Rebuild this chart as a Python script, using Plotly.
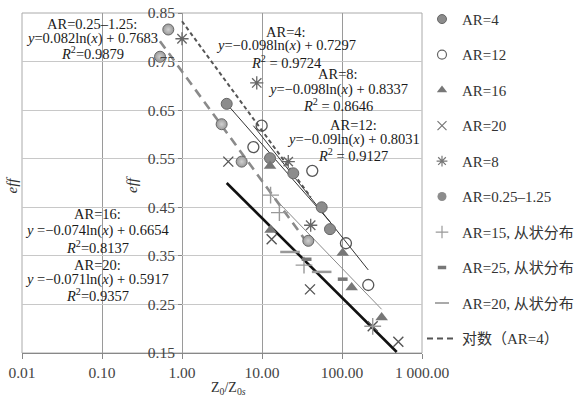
import plotly.graph_objects as go

# ---------------- data ----------------
ar4_x = [3.62, 12.6, 24.6, 55.7, 70.8]
ar4_y = [0.663, 0.551, 0.520, 0.450, 0.405]
ar12_x = [7.8, 9.9, 42.5, 112, 213]
ar12_y = [0.574, 0.618, 0.525, 0.376, 0.290]
ar16_x = [12.6, 12.8, 102, 132, 313]
ar16_y = [0.535, 0.403, 0.356, 0.285, 0.223]
ar20_x = [3.79, 13.2, 39.8, 242, 506]
ar20_y = [0.544, 0.384, 0.281, 0.205, 0.173]
ar8_x = [1.0, 8.6, 21.3, 40.6]
ar8_y = [0.797, 0.706, 0.544, 0.413]
ar025_x = [0.531, 0.674, 3.13, 5.57, 37.9]
ar025_y = [0.760, 0.816, 0.621, 0.544, 0.381]
ar15c_x = [12.8, 16.5, 33.5, 242]
ar15c_y = [0.475, 0.439, 0.331, 0.205]
ar25c_x = [36.1, 102]
ar25c_y = [0.343, 0.302]
ar20c_x = [22.4, 55.7]
ar20c_y = [0.358, 0.317]

# trend line end points
tr_ar8_x = [1.0, 40.6]
tr_ar8_y = [0.833, 0.471]
tr_ar025_x = [0.53, 37.9]
tr_ar025_y = [0.792, 0.374]
tr_ar4_x = [3.62, 70.8]
tr_ar4_y = [0.663, 0.420]
tr_ar12_x = [7.8, 213]
tr_ar12_y = [0.618, 0.321]
tr_ar16_x = [12.6, 313]
tr_ar16_y = [0.478, 0.240]
tr_ar20_x = [3.62, 483]
tr_ar20_y = [0.500, 0.152]

x_tickvals = [0.01, 0.1, 1, 10, 100, 1000]
x_ticktext = ["0.01", "0.10", "1.00", "10.00", "100.00", "1 000.00"]
y_tickvals = [0.15, 0.25, 0.35, 0.45, 0.55, 0.65, 0.75, 0.85]
y_ticktext = ["0.15", "0.25", "0.35", "0.45", "0.55", "0.65", "0.75", "0.85"]

legend_names = ["AR=4", "AR=12", "AR=16", "AR=20", "AR=8", "AR=0.25–1.25",
                "AR=15, 从状分布", "AR=25, 从状分布", "AR=20, 从状分布", "对数（AR=4）"]

SERIF = "Liberation Serif, 'Noto Sans CJK SC', serif"

fig = go.Figure()

# ---- trend lines ----
def line(x, y, color, width, dash="solid"):
    fig.add_trace(go.Scatter(x=x, y=y, mode="lines", showlegend=False, hoverinfo="skip",
                             line=dict(color=color, width=width, dash=dash)))

line(tr_ar20_x, tr_ar20_y, "#111111", 2.6)
line(tr_ar16_x, tr_ar16_y, "#8a8a8a", 1.0)
line(tr_ar12_x, tr_ar12_y, "#333333", 1.0)
line(tr_ar4_x, tr_ar4_y, "#333333", 1.0)
line(tr_ar025_x, tr_ar025_y, "#8a8a8a", 2.6, "9px,6px")
line(tr_ar8_x, tr_ar8_y, "#555555", 2.0, "4px,3px")

# ---- markers ----
styles = [
    (ar4_x, ar4_y, dict(symbol="circle", size=11, color="#8c8c8c", line=dict(color="#666666", width=1))),
    (ar12_x, ar12_y, dict(symbol="circle-open", size=11, color="#555555", line=dict(width=1.3))),
    (ar16_x, ar16_y, dict(symbol="triangle-up", size=11, color="#777777", line=dict(width=0))),
    (ar20_x, ar20_y, dict(symbol="x-thin-open", size=10, color="#555555", line=dict(width=1.4))),
    (ar8_x, ar8_y, dict(symbol="asterisk-open", size=11, color="#666666", line=dict(width=1.3))),
    (ar025_x, ar025_y, dict(symbol="circle", size=11, color="#999999",
                            gradient=dict(type="radial", color="#d0d0d0"),
                            line=dict(color="#666666", width=1))),
    (ar15c_x, ar15c_y, dict(symbol="cross-thin-open", size=12, color="#999999", line=dict(width=1.4))),
    (ar25c_x, ar25c_y, dict(symbol="line-ew-open", size=7, color="#777777", line=dict(width=3.5))),
    (ar20c_x, ar20c_y, dict(symbol="line-ew-open", size=14, color="#999999", line=dict(width=2.5))),
]
for x, y, m in styles:
    fig.add_trace(go.Scatter(x=x, y=y, mode="markers", marker=m, showlegend=False))

# ---- legend entries ----
leg_markers = [
    dict(symbol="circle", size=9, color="#8c8c8c", line=dict(color="#666666", width=1)),
    dict(symbol="circle-open", size=9, color="#666666", line=dict(width=1.2)),
    dict(symbol="triangle-up", size=9, color="#777777", line=dict(width=0)),
    dict(symbol="x-thin-open", size=9, color="#777777", line=dict(width=1.2)),
    dict(symbol="asterisk-open", size=9, color="#777777", line=dict(width=1.2)),
    dict(symbol="circle", size=9, color="#8c8c8c", line=dict(width=0)),
    dict(symbol="cross-thin-open", size=9, color="#999999", line=dict(width=1.2)),
    dict(symbol="line-ew-open", size=6, color="#777777", line=dict(width=3.5)),
    dict(symbol="line-ew-open", size=10, color="#aaaaaa", line=dict(width=2)),
]
for i, (name, m) in enumerate(zip(legend_names[:9], leg_markers)):
    fig.add_trace(go.Scatter(x=[None], y=[None], mode="markers", marker=m, name=name,
                             legendgroup=f"g{i}"))
fig.add_trace(go.Scatter(x=[None], y=[None], mode="lines", name=legend_names[9],
                         line=dict(color="#555555", width=2, dash="6px,4px"), legendgroup="g9"))

# ---- text annotations (trend equations) ----
def px2paper(px, py):
    return (px - 22) / 400.0, (353 - py) / 340.0

eq_blocks = [
    (92, [24, 38.5, 53], ["AR=0.25–1.25:", "<i>y</i>=0.082ln(<i>x</i>) + 0.7683", "<i>R</i><sup>2</sup>=0.9879"]),
    (286, [31.7, 46, 61.5], ["AR=4:", "<i>y</i>=−0.098ln(<i>x</i>) + 0.7297", "<i>R</i><sup>2</sup> = 0.9724"]),
    (338, [73.5, 89, 104.5], ["AR=8:", "<i>y</i>=−0.098ln(<i>x</i>) + 0.8337", "<i>R</i><sup>2</sup> = 0.8646"]),
    (353, [125, 139.5, 155], ["AR=12:", "<i>y</i>=−0.09ln(<i>x</i>) + 0.8031", "<i>R</i><sup>2</sup> = 0.9127"]),
    (97, [214, 231, 246.5], ["AR=16:", "<i>y</i> =−0.074ln(<i>x</i>) + 0.6654", "<i>R</i><sup>2</sup>=0.8137"]),
    (97, [265, 279.5, 295], ["AR=20:", "<i>y</i> =−0.071ln(<i>x</i>) + 0.5917", "<i>R</i><sup>2</sup>=0.9357"]),
]
annotations = []
for cx, ys, texts in eq_blocks:
    for py, t in zip(ys, texts):
        ax, ay = px2paper(cx, py)
        annotations.append(dict(x=ax, y=ay, xref="paper", yref="paper", text=t, showarrow=False,
                                xanchor="center", yanchor="middle",
                                font=dict(family=SERIF, size=14.5, color="#1a1a1a")))

for px, py in [(11.5, 185), (132, 185)]:
    ax, ay = px2paper(px, py)
    annotations.append(dict(x=ax, y=ay, xref="paper", yref="paper", text="<i>eff</i>", showarrow=False,
                            textangle=-90, xanchor="center", yanchor="middle",
                            font=dict(family=SERIF, size=15, color="#333333")))
ax, ay = px2paper(228, 388)
annotations.append(dict(x=ax, y=ay, xref="paper", yref="paper", text="Z<sub>0</sub>/Z<sub>0<i>s</i></sub>",
                        showarrow=False, xanchor="center", yanchor="middle",
                        font=dict(family=SERIF, size=14, color="#333333")))

fig.update_layout(
    width=578, height=396,
    margin=dict(l=22, r=156, t=13, b=43, autoexpand=False),
    paper_bgcolor="white", plot_bgcolor="white",
    font=dict(family=SERIF, size=15, color="#333333"),
    showlegend=True,
    legend=dict(x=1.0, xanchor="left", y=1.03, yanchor="top", tracegroupgap=13, maxheight=390,
                font=dict(family=SERIF, size=15, color="#333333"),
                bgcolor="rgba(0,0,0,0)", borderwidth=0, itemwidth=30),
    xaxis=dict(type="log", range=[-2, 3], tickvals=x_tickvals, ticktext=x_ticktext,
               showgrid=True, gridcolor="#9a9a9a", gridwidth=1, ticks="outside", ticklen=5,
               tickcolor="#888888", showline=True, linecolor="#888888", zeroline=False,
               tickfont=dict(family=SERIF, size=15.5, color="#444444")),
    yaxis=dict(range=[0.15, 0.85], tickvals=y_tickvals, ticktext=y_ticktext, anchor="free", position=0.4,
               showgrid=True, gridcolor="#c8c8c8", gridwidth=1, ticks="outside", ticklen=4,
               tickcolor="#888888", showline=False, zeroline=False,
               tickfont=dict(family=SERIF, size=15.5, color="#444444")),
    shapes=[dict(type="rect", xref="paper", yref="paper", x0=0, x1=1, y0=0, y1=1,
                 line=dict(color="#aaaaaa", width=1), layer="below")],
    annotations=annotations,
)

fig.write_html("out.html", config={"displayModeBar": False},
               post_script="document.body.style.margin='0';")
